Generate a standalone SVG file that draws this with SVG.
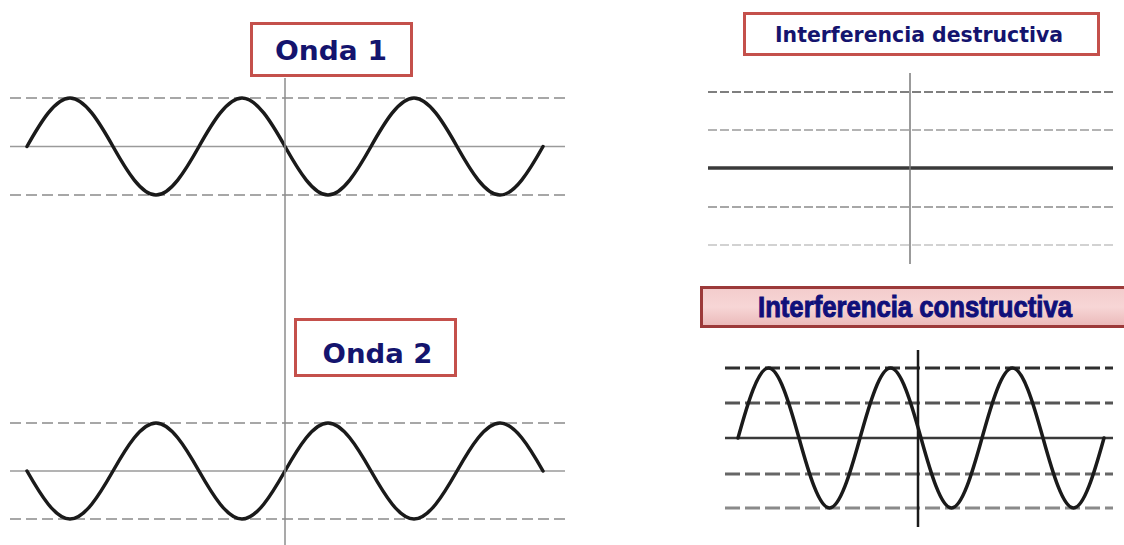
<svg xmlns="http://www.w3.org/2000/svg" width="1124" height="545" viewBox="0 0 1124 545">
<style>
.bg{fill:#ffffff}
.lbl{fill:#ffffff;stroke:#c4504b;stroke-width:3}
.lt{font-family:"DejaVu Sans","Verdana",sans-serif;font-weight:bold;fill:#14146e;text-anchor:middle}
.ct{font-family:"Liberation Sans","Arial",sans-serif;font-weight:bold;fill:#10107a;stroke:#10107a;stroke-width:1;text-anchor:middle}
.dash{stroke:#8a8a8a;stroke-width:1.5;stroke-dasharray:11 5;fill:none}
.axis{stroke:#9a9a9a;stroke-width:1.5;fill:none}
.vax{stroke:#8c8c8c;stroke-width:1.5;fill:none}
.wave{stroke:#1a1a1a;stroke-width:3.5;fill:none;stroke-linejoin:round;stroke-linecap:round}
.ddash{stroke-width:1.5;stroke-dasharray:9 3;fill:none}
.cdash{stroke-width:2.8;stroke-dasharray:15 5;fill:none}
</style>
<defs>
<linearGradient id="pink" x1="0" y1="0" x2="0" y2="1">
<stop offset="0" stop-color="#f3cccc"/>
<stop offset="0.5" stop-color="#f7d6d6"/>
<stop offset="1" stop-color="#eab8b8"/>
</linearGradient>
</defs>
<rect class="bg" x="0" y="0" width="1124" height="545"/>

<g id="onda1-chart">
<line class="dash" x1="10" y1="98" x2="565" y2="98"/>
<line class="axis" x1="10" y1="146.5" x2="565" y2="146.5"/>
<line class="dash" x1="10" y1="195" x2="565" y2="195"/>
<path class="wave" d="M27,146.5 C41.02,121.65 55.44,98 70,98 S98.98,121.65 113,146.5 S141.44,195 156,195 S184.98,171.35 199,146.5 S227.44,98 242,98 S270.98,121.65 285,146.5 S313.44,195 328,195 S356.98,171.35 371,146.5 S399.44,98 414,98 S442.98,121.65 457,146.5 S485.44,195 500,195 S528.98,171.35 543,146.5"/>
</g>

<g id="onda2-chart">
<line class="dash" x1="10" y1="423" x2="565" y2="423"/>
<line class="axis" x1="10" y1="471" x2="565" y2="471"/>
<line class="dash" x1="10" y1="519" x2="565" y2="519"/>
<path class="wave" d="M27,471 C41.02,495.6 55.44,519 70,519 S98.98,495.6 113,471 S141.44,423 156,423 S184.98,446.4 199,471 S227.44,519 242,519 S270.98,495.6 285,471 S313.44,423 328,423 S356.98,446.4 371,471 S399.44,519 414,519 S442.98,495.6 457,471 S485.44,423 500,423 S528.98,446.4 543,471"/>
</g>

<g id="left-axis">
<line class="vax" x1="285" y1="78" x2="285" y2="545"/>
</g>

<g id="onda1-label">
<rect class="lbl" x="251.5" y="23.5" width="160" height="52"/>
<text class="lt" x="331" y="60" font-size="26" textLength="112" lengthAdjust="spacingAndGlyphs">Onda 1</text>
</g>

<g id="onda2-label">
<rect class="lbl" x="295.5" y="319.5" width="160" height="56"/>
<text class="lt" x="377.5" y="363" font-size="26" textLength="110" lengthAdjust="spacingAndGlyphs">Onda 2</text>
</g>

<g id="destructiva-label">
<rect class="lbl" x="744.5" y="13.5" width="354" height="41"/>
<text class="lt" x="919" y="42" font-size="21" textLength="288" lengthAdjust="spacingAndGlyphs">Interferencia destructiva</text>
</g>

<g id="destructiva-chart">
<line class="ddash" stroke="#555555" x1="708" y1="92" x2="1113" y2="92"/>
<line class="ddash" stroke="#9a9a9a" x1="708" y1="130" x2="1113" y2="130"/>
<line stroke="#3a3a3a" stroke-width="3.5" x1="708" y1="168" x2="1113" y2="168"/>
<line class="ddash" stroke="#8a8a8a" x1="708" y1="207" x2="1113" y2="207"/>
<line class="ddash" stroke="#c4c4c4" x1="708" y1="245" x2="1113" y2="245"/>
<line stroke="#7a7a7a" stroke-width="1.5" x1="910" y1="73" x2="910" y2="264"/>
</g>

<g id="constructiva-label">
<rect x="701.5" y="287.5" width="430" height="39" fill="url(#pink)" stroke="#9c3a3a" stroke-width="3"/>
<text class="ct" x="915" y="317" font-size="30" textLength="314" lengthAdjust="spacingAndGlyphs">Interferencia constructiva</text>
</g>

<g id="constructiva-chart">
<line class="cdash" stroke="#2e2e2e" x1="725" y1="368" x2="1113" y2="368"/>
<line class="cdash" stroke="#555555" x1="725" y1="403" x2="1113" y2="403"/>
<line stroke="#3a3a3a" stroke-width="2.5" x1="725" y1="438" x2="1113" y2="438"/>
<line class="cdash" stroke="#666666" x1="725" y1="474" x2="1113" y2="474"/>
<line class="cdash" stroke="#8a8a8a" x1="725" y1="508" x2="1113" y2="508"/>
<line stroke="#1a1a1a" stroke-width="2.5" x1="918" y1="350" x2="918" y2="527"/>
<path class="wave" stroke-width="3" d="M738,438 C747.95,402.14 758.17,368 768.5,368 S789.05,402.14 799,438 S819.17,508 829.5,508 S850.05,473.86 860,438 S880.17,368 890.5,368 S911.05,402.14 921,438 S941.17,508 951.5,508 S972.05,473.86 982,438 S1002.17,368 1012.5,368 S1033.05,402.14 1043,438 S1063.17,508 1073.5,508 S1094.05,473.86 1104,438"/>
</g>
</svg>
